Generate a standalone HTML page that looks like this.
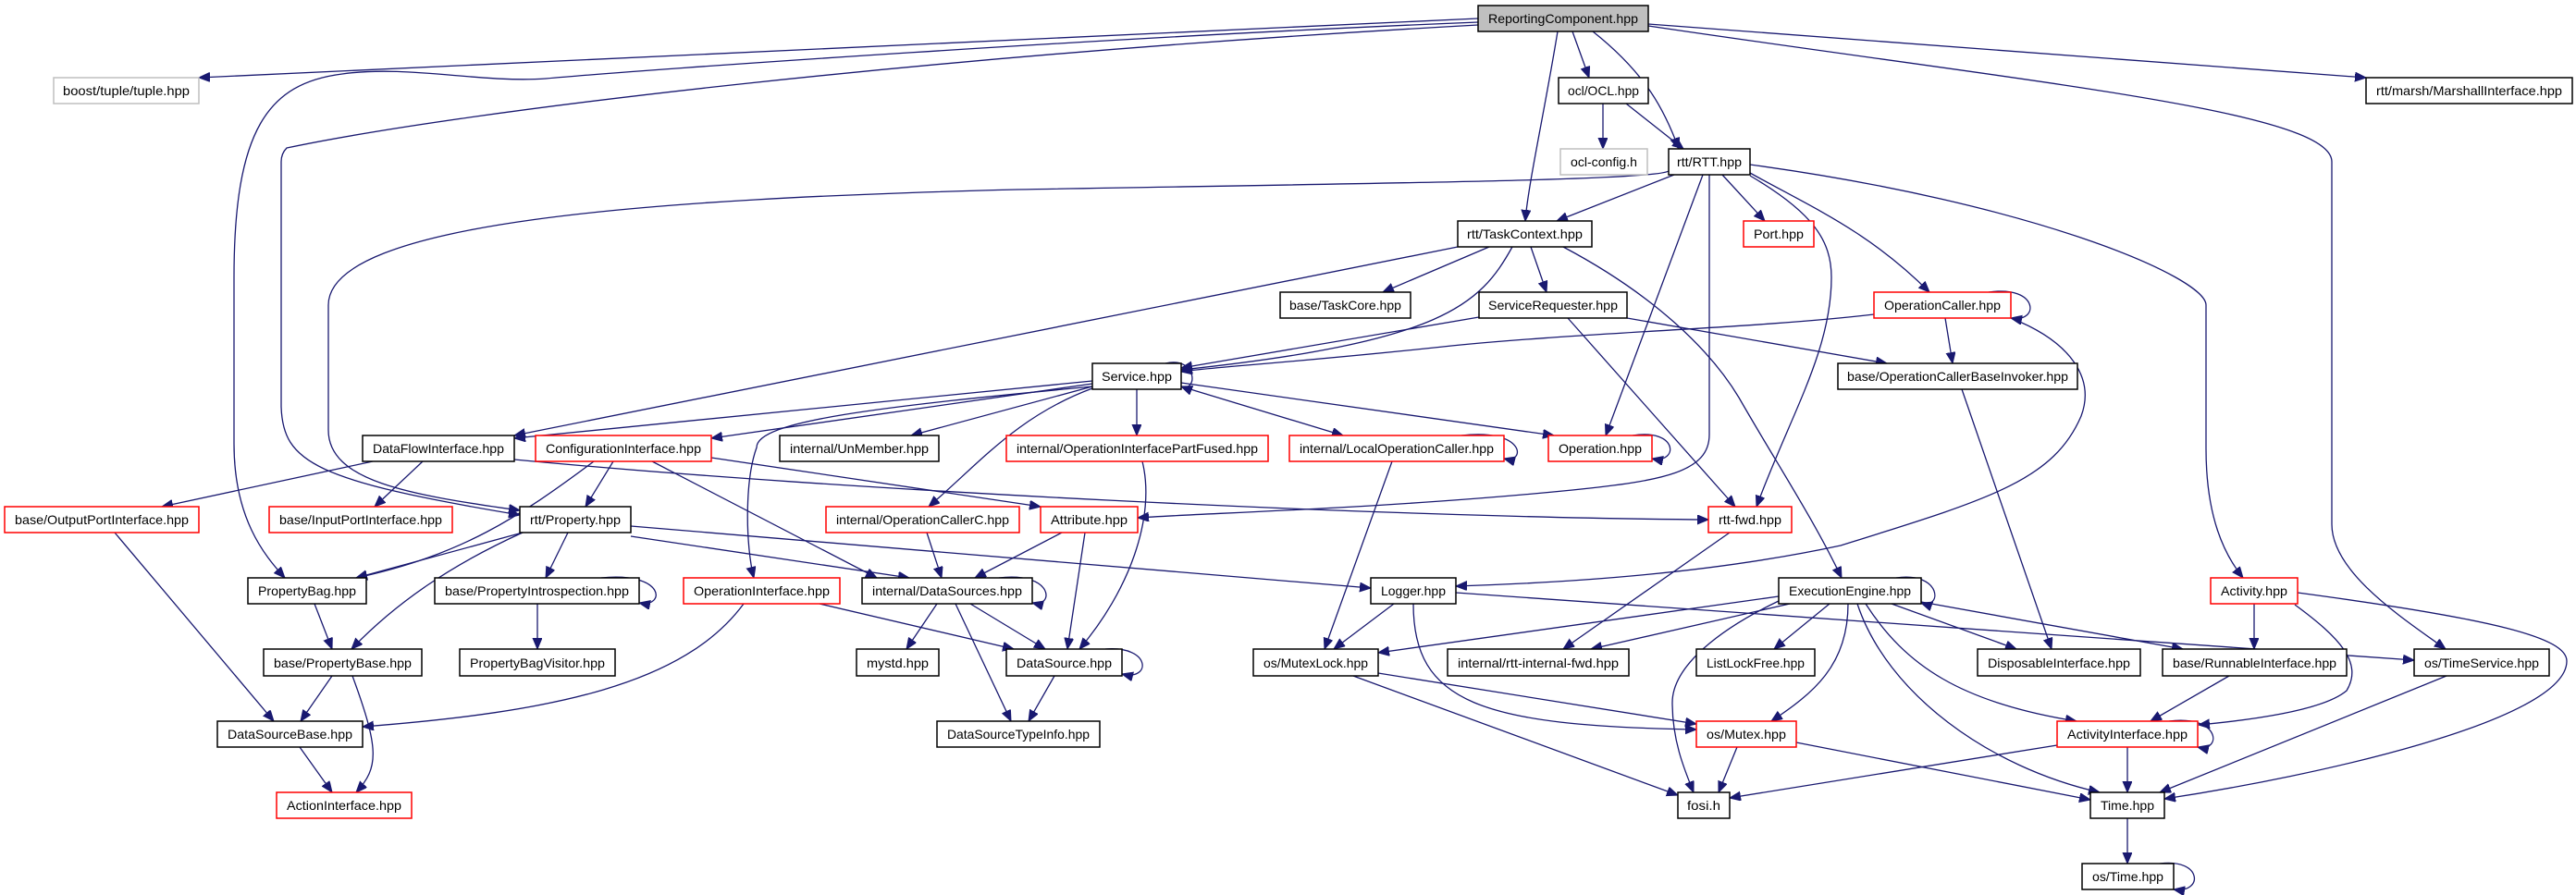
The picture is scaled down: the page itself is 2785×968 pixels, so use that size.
<!DOCTYPE html>
<html><head><meta charset="utf-8"><style>
html,body{margin:0;padding:0;background:#fff}
svg{display:block}
text{font-family:"Liberation Sans",sans-serif;font-size:14px;fill:#000}
.e{fill:none;stroke:#191970;stroke-width:1.3}
rect{fill:#fff;stroke:#000;stroke-width:1.5}
rect.r{stroke:#ff0000}
rect.g{stroke:#bfbfbf}
</style></head><body>
<svg width="2785" height="968" viewBox="0 0 2785 968" xmlns="http://www.w3.org/2000/svg">
<defs><marker id="a" markerUnits="userSpaceOnUse" markerWidth="14" markerHeight="12" refX="12" refY="5" orient="auto"><path d="M0,0 L12,5 L0,10 z" fill="#191970" stroke="#191970"/></marker></defs>
<g class="e" marker-end="url(#a)">
<path d="M1598,20 L215,84"/>
<path d="M1598,24 C1200,40 700,75 590,85 C520,90 440,70 370,80 C290,90 253,140 253,300 L253,480 C253,560 285,600 308,625"/>
<path d="M1598,27 C1000,60 500,120 310,160 C305,165 304,170 304,175 L304,440 C306,500 340,520 562,557"/>
<path d="M1684,34 C1670,120 1652,200 1649,239"/>
<path d="M1700,34 L1718,84"/>
<path d="M1722,34 C1780,80 1800,120 1815,161"/>
<path d="M1782,26 L2558,84"/>
<path d="M1782,28 C2200,90 2521,120 2521,175 L2521,567 C2521,620 2600,670 2644,702"/>
<path d="M1733,112 L1733,161"/>
<path d="M1758,112 L1820,161"/>
<path d="M1810,189 L1683,239"/>
<path d="M1804,185 C1790,195 1500,198 1100,205 C700,215 355,240 355,330 L355,465 C355,520 440,535 562,552"/>
<path d="M1862,189 L1908,239"/>
<path d="M1892,187 C1960,225 2020,250 2086,316"/>
<path d="M1841,189 L1736,471"/>
<path d="M1892,190 C1960,230 1980,260 1980,300 C1980,380 1935,450 1899,548"/>
<path d="M1848,189 L1848,470 C1848,510 1800,520 1700,530 C1500,550 1300,555 1230,560"/>
<path d="M1892,178 C2200,220 2385,300 2385,330 L2385,485 C2385,560 2405,600 2425,625"/>
<path d="M1576,267 L556,471"/>
<path d="M1610,267 L1495,316"/>
<path d="M1635,267 C1600,330 1560,370 1277,400"/>
<path d="M1655,267 L1672,316"/>
<path d="M1690,267 C1790,320 1850,380 1880,430 C1920,500 1960,560 1991,625"/>
<path d="M1599,343 L1277,398"/>
<path d="M1695,344 L1876,548"/>
<path d="M1759,344 L2040,393"/>
<path d="M2026,340 C1900,355 1700,360 1560,375 C1400,392 1300,398 1277,402"/>
<path d="M2150,316 C2205,308 2205,350 2174,344"/>
<path d="M2103,344 L2111,393"/>
<path d="M2174,344 C2240,370 2265,410 2250,450 C2220,520 2150,540 1990,590 C1850,620 1700,630 1574,634"/>
<path d="M2121,421 L2218,702"/>
<path d="M1260,393 C1295,385 1295,425 1277,418"/>
<path d="M1181,412 L556,474"/>
<path d="M1181,415 L769,474"/>
<path d="M1181,418 L985,471"/>
<path d="M1229,421 L1229,471"/>
<path d="M1277,418 L1452,471"/>
<path d="M1277,414 L1680,471"/>
<path d="M1181,420 C1100,450 1060,500 1004,548"/>
<path d="M1181,418 C950,440 818,455 818,484 C805,520 806,590 815,625"/>
<path d="M403,499 L175,548"/>
<path d="M457,499 L405,548"/>
<path d="M556,497 C900,530 1500,560 1847,562"/>
<path d="M663,499 L633,548"/>
<path d="M642,499 C560,560 500,600 385,625"/>
<path d="M705,499 L948,625"/>
<path d="M769,495 L1125,548"/>
<path d="M565,576 L385,625"/>
<path d="M614,576 L590,625"/>
<path d="M565,576 C490,610 430,650 380,702"/>
<path d="M682,580 L983,625"/>
<path d="M682,569 L1482,636"/>
<path d="M340,653 L359,702"/>
<path d="M650,625 C720,618 720,658 691,652"/>
<path d="M581,653 L581,702"/>
<path d="M886,653 L1096,702"/>
<path d="M804,653 C740,740 600,770 392,786"/>
<path d="M359,731 L325,780"/>
<path d="M381,731 C410,810 410,830 385,857"/>
<path d="M324,808 L359,857"/>
<path d="M124,576 L296,780"/>
<path d="M1002,576 L1018,625"/>
<path d="M1148,576 L1054,625"/>
<path d="M1173,576 L1154,702"/>
<path d="M1235,499 C1250,560 1220,640 1167,702"/>
<path d="M1580,471 C1650,463 1650,502 1626,496"/>
<path d="M1505,499 L1432,702"/>
<path d="M1765,471 C1815,463 1815,502 1786,496"/>
<path d="M1080,625 C1140,618 1140,658 1116,652"/>
<path d="M1013,653 L980,702"/>
<path d="M1049,653 L1130,702"/>
<path d="M1033,653 L1093,780"/>
<path d="M1195,702 C1245,698 1245,737 1213,729"/>
<path d="M1140,731 L1112,780"/>
<path d="M1507,653 L1442,702"/>
<path d="M1528,653 C1528,760 1600,785 1834,789"/>
<path d="M1574,641 L2610,714"/>
<path d="M1870,576 L1690,702"/>
<path d="M1490,728 L1834,783"/>
<path d="M1463,731 L1814,860"/>
<path d="M2050,625 C2100,618 2100,660 2077,652"/>
<path d="M1923,645 L1490,706"/>
<path d="M1935,653 L1720,702"/>
<path d="M1978,653 L1918,702"/>
<path d="M2045,653 L2180,702"/>
<path d="M2077,651 L2360,702"/>
<path d="M1998,653 C1998,720 1960,750 1915,780"/>
<path d="M1923,650 C1860,680 1808,720 1808,760 C1808,800 1820,830 1831,857"/>
<path d="M2017,653 C2060,720 2120,760 2245,780"/>
<path d="M2008,653 C2040,750 2150,830 2270,857"/>
<path d="M2437,653 L2437,702"/>
<path d="M2481,654 C2530,690 2555,717 2537,747 C2510,770 2420,780 2377,784"/>
<path d="M2484,641 C2700,670 2775,690 2775,715 C2775,780 2500,840 2340,864"/>
<path d="M2410,731 L2325,780"/>
<path d="M2645,731 L2335,857"/>
<path d="M2345,780 C2402,773 2402,814 2376,808"/>
<path d="M2224,806 L1870,863"/>
<path d="M2300,808 L2300,857"/>
<path d="M1878,808 L1858,857"/>
<path d="M1942,803 L2260,865"/>
<path d="M2300,885 L2300,934"/>
<path d="M2335,934 C2382,928 2382,967 2350,962"/>
</g>
<g>
<rect x="1598" y="6" width="184" height="28" style="fill:#bfbfbf"/>
<rect class="g" x="58" y="84" width="157" height="28"/>
<rect x="1685" y="84" width="97" height="28"/>
<rect x="2558" y="84" width="223" height="28"/>
<rect class="g" x="1687" y="161" width="94" height="28"/>
<rect x="1804" y="161" width="88" height="28"/>
<rect x="1576" y="239" width="145" height="28"/>
<rect class="r" x="1885" y="239" width="76" height="28"/>
<rect x="1384" y="316" width="141" height="28"/>
<rect x="1599" y="316" width="160" height="28"/>
<rect class="r" x="2026" y="316" width="148" height="28"/>
<rect x="1181" y="393" width="96" height="28"/>
<rect x="1987" y="393" width="259" height="28"/>
<rect x="392" y="471" width="164" height="28"/>
<rect class="r" x="579" y="471" width="190" height="28"/>
<rect x="843" y="471" width="172" height="28"/>
<rect class="r" x="1088" y="471" width="283" height="28"/>
<rect class="r" x="1394" y="471" width="232" height="28"/>
<rect class="r" x="1674" y="471" width="112" height="28"/>
<rect class="r" x="5" y="548" width="210" height="28"/>
<rect class="r" x="291" y="548" width="198" height="28"/>
<rect x="562" y="548" width="120" height="28"/>
<rect class="r" x="893" y="548" width="209" height="28"/>
<rect class="r" x="1125" y="548" width="105" height="28"/>
<rect class="r" x="1847" y="548" width="90" height="28"/>
<rect x="268" y="625" width="128" height="28"/>
<rect x="470" y="625" width="221" height="28"/>
<rect class="r" x="739" y="625" width="169" height="28"/>
<rect x="932" y="625" width="184" height="28"/>
<rect x="1482" y="625" width="92" height="28"/>
<rect x="1923" y="625" width="154" height="28"/>
<rect class="r" x="2390" y="625" width="94" height="28"/>
<rect x="285" y="702" width="171" height="29"/>
<rect x="497" y="702" width="168" height="29"/>
<rect x="926" y="702" width="89" height="29"/>
<rect x="1088" y="702" width="125" height="29"/>
<rect x="1355" y="702" width="135" height="29"/>
<rect x="1565" y="702" width="196" height="29"/>
<rect x="1834" y="702" width="128" height="29"/>
<rect x="2138" y="702" width="176" height="29"/>
<rect x="2338" y="702" width="199" height="29"/>
<rect x="2610" y="702" width="146" height="29"/>
<rect x="235" y="780" width="157" height="28"/>
<rect x="1013" y="780" width="176" height="28"/>
<rect class="r" x="1834" y="780" width="108" height="28"/>
<rect class="r" x="2224" y="780" width="152" height="28"/>
<rect class="r" x="299" y="857" width="146" height="28"/>
<rect x="1814" y="857" width="56" height="28"/>
<rect x="2260" y="857" width="80" height="28"/>
<rect x="2251" y="934" width="99" height="28"/>
</g>
<g text-anchor="middle" lengthAdjust="spacingAndGlyphs">
<text x="1690" y="25" textLength="162" lengthAdjust="spacingAndGlyphs">ReportingComponent.hpp</text>
<text x="136.5" y="103" textLength="137" lengthAdjust="spacingAndGlyphs">boost/tuple/tuple.hpp</text>
<text x="1733.5" y="103" textLength="77" lengthAdjust="spacingAndGlyphs">ocl/OCL.hpp</text>
<text x="2669.5" y="103" textLength="201" lengthAdjust="spacingAndGlyphs">rtt/marsh/MarshallInterface.hpp</text>
<text x="1734" y="180" textLength="72" lengthAdjust="spacingAndGlyphs">ocl-config.h</text>
<text x="1848" y="180" textLength="70" lengthAdjust="spacingAndGlyphs">rtt/RTT.hpp</text>
<text x="1648.5" y="258" textLength="125" lengthAdjust="spacingAndGlyphs">rtt/TaskContext.hpp</text>
<text x="1923" y="258" textLength="54" lengthAdjust="spacingAndGlyphs">Port.hpp</text>
<text x="1454.5" y="335" textLength="121" lengthAdjust="spacingAndGlyphs">base/TaskCore.hpp</text>
<text x="1679" y="335" textLength="140" lengthAdjust="spacingAndGlyphs">ServiceRequester.hpp</text>
<text x="2100" y="335" textLength="126" lengthAdjust="spacingAndGlyphs">OperationCaller.hpp</text>
<text x="1229" y="412" textLength="76" lengthAdjust="spacingAndGlyphs">Service.hpp</text>
<text x="2116.5" y="412" textLength="239" lengthAdjust="spacingAndGlyphs">base/OperationCallerBaseInvoker.hpp</text>
<text x="474" y="490" textLength="142" lengthAdjust="spacingAndGlyphs">DataFlowInterface.hpp</text>
<text x="674" y="490" textLength="168" lengthAdjust="spacingAndGlyphs">ConfigurationInterface.hpp</text>
<text x="929" y="490" textLength="150" lengthAdjust="spacingAndGlyphs">internal/UnMember.hpp</text>
<text x="1229.5" y="490" textLength="261" lengthAdjust="spacingAndGlyphs">internal/OperationInterfacePartFused.hpp</text>
<text x="1510" y="490" textLength="210" lengthAdjust="spacingAndGlyphs">internal/LocalOperationCaller.hpp</text>
<text x="1730" y="490" textLength="90" lengthAdjust="spacingAndGlyphs">Operation.hpp</text>
<text x="110" y="567" textLength="188" lengthAdjust="spacingAndGlyphs">base/OutputPortInterface.hpp</text>
<text x="390" y="567" textLength="176" lengthAdjust="spacingAndGlyphs">base/InputPortInterface.hpp</text>
<text x="622" y="567" textLength="98" lengthAdjust="spacingAndGlyphs">rtt/Property.hpp</text>
<text x="997.5" y="567" textLength="187" lengthAdjust="spacingAndGlyphs">internal/OperationCallerC.hpp</text>
<text x="1177.5" y="567" textLength="83" lengthAdjust="spacingAndGlyphs">Attribute.hpp</text>
<text x="1892" y="567" textLength="68" lengthAdjust="spacingAndGlyphs">rtt-fwd.hpp</text>
<text x="332" y="644" textLength="106" lengthAdjust="spacingAndGlyphs">PropertyBag.hpp</text>
<text x="580.5" y="644" textLength="199" lengthAdjust="spacingAndGlyphs">base/PropertyIntrospection.hpp</text>
<text x="823.5" y="644" textLength="147" lengthAdjust="spacingAndGlyphs">OperationInterface.hpp</text>
<text x="1024" y="644" textLength="162" lengthAdjust="spacingAndGlyphs">internal/DataSources.hpp</text>
<text x="1528" y="644" textLength="70" lengthAdjust="spacingAndGlyphs">Logger.hpp</text>
<text x="2000" y="644" textLength="132" lengthAdjust="spacingAndGlyphs">ExecutionEngine.hpp</text>
<text x="2437" y="644" textLength="72" lengthAdjust="spacingAndGlyphs">Activity.hpp</text>
<text x="370.5" y="722" textLength="149" lengthAdjust="spacingAndGlyphs">base/PropertyBase.hpp</text>
<text x="581" y="722" textLength="146" lengthAdjust="spacingAndGlyphs">PropertyBagVisitor.hpp</text>
<text x="970.5" y="722" textLength="67" lengthAdjust="spacingAndGlyphs">mystd.hpp</text>
<text x="1150.5" y="722" textLength="103" lengthAdjust="spacingAndGlyphs">DataSource.hpp</text>
<text x="1422.5" y="722" textLength="113" lengthAdjust="spacingAndGlyphs">os/MutexLock.hpp</text>
<text x="1663" y="722" textLength="174" lengthAdjust="spacingAndGlyphs">internal/rtt-internal-fwd.hpp</text>
<text x="1898" y="722" textLength="106" lengthAdjust="spacingAndGlyphs">ListLockFree.hpp</text>
<text x="2226" y="722" textLength="154" lengthAdjust="spacingAndGlyphs">DisposableInterface.hpp</text>
<text x="2437.5" y="722" textLength="177" lengthAdjust="spacingAndGlyphs">base/RunnableInterface.hpp</text>
<text x="2683" y="722" textLength="124" lengthAdjust="spacingAndGlyphs">os/TimeService.hpp</text>
<text x="313.5" y="799" textLength="135" lengthAdjust="spacingAndGlyphs">DataSourceBase.hpp</text>
<text x="1101" y="799" textLength="154" lengthAdjust="spacingAndGlyphs">DataSourceTypeInfo.hpp</text>
<text x="1888" y="799" textLength="86" lengthAdjust="spacingAndGlyphs">os/Mutex.hpp</text>
<text x="2300" y="799" textLength="130" lengthAdjust="spacingAndGlyphs">ActivityInterface.hpp</text>
<text x="372" y="876" textLength="124" lengthAdjust="spacingAndGlyphs">ActionInterface.hpp</text>
<text x="1842" y="876" textLength="36" lengthAdjust="spacingAndGlyphs">fosi.h</text>
<text x="2300" y="876" textLength="58" lengthAdjust="spacingAndGlyphs">Time.hpp</text>
<text x="2300.5" y="953" textLength="77" lengthAdjust="spacingAndGlyphs">os/Time.hpp</text>
</g>
</svg>
</body></html>
